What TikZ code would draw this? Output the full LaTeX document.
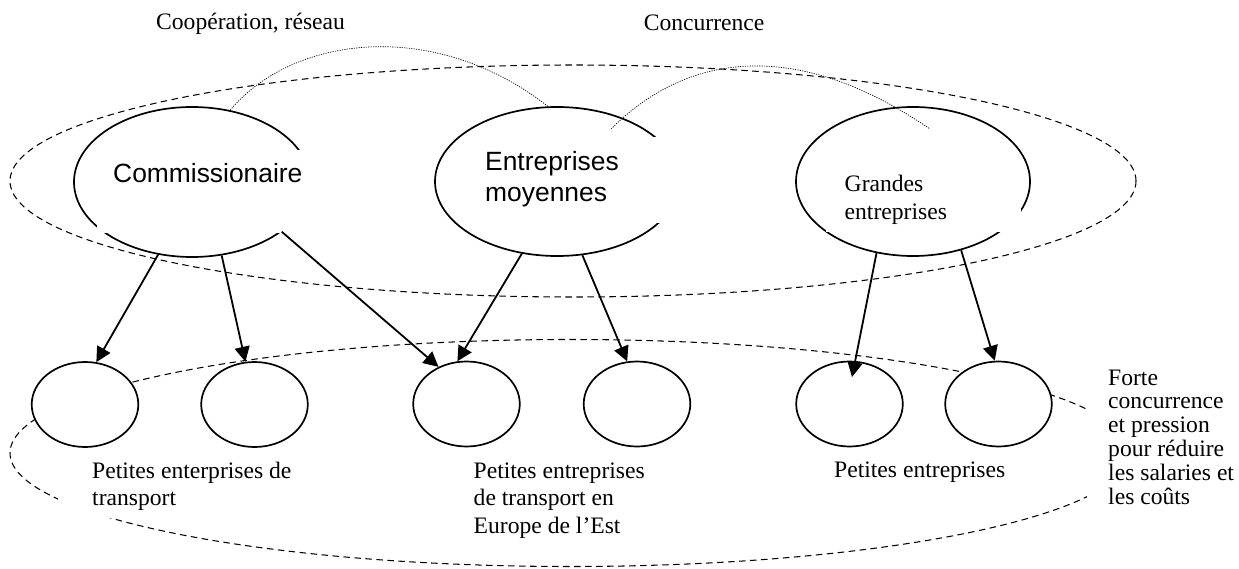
\documentclass[tikz,border=0pt]{standalone}
\usepackage{fontspec}
\setmainfont{Liberation Serif}
\newfontfamily\arialf{Liberation Sans}
\usetikzlibrary{shapes.geometric,arrows.meta}
\newcommand\txtserif{\fontsize{23.6pt}{27.5pt}\selectfont}
\newcommand\txtsans{\arialf\fontsize{26.4pt}{30.5pt}\selectfont}
\begin{document}
\begin{tikzpicture}[x=1pt,y=-1pt,
  bigell/.style={ellipse,draw,fill=white,line width=1.7pt,inner sep=0pt,minimum height=149pt},
  smallell/.style={ellipse,draw,fill=white,line width=1.7pt,inner sep=0pt,minimum width=106.6pt,minimum height=85pt},
  dashline/.style={line width=1.05pt,dash pattern=on 6.5pt off 4.5pt},
  dotline/.style={line width=0.65pt,dash pattern=on 1.2pt off 1.2pt},
  arr/.style={line width=1.8pt,-{Triangle[length=15pt,width=15pt]}},
  mask/.style={fill=white},
  lab/.style={anchor=base west,inner sep=0pt}]
\useasboundingbox[fill=white] (0,0) rectangle (1239,569);

% group outlines
\draw[dashline] (573,181) ellipse [x radius=563pt, y radius=116pt];
\draw[dashline] (570,453) ellipse [x radius=560pt, y radius=113.5pt];

% large firms
\node[bigell,minimum width=236pt,minimum height=150pt] (comm) at (192,182) {};
\node[bigell,minimum width=244pt] (ent) at (557,181.5) {};
\node[bigell,minimum width=234pt] (gra) at (913,181.5) {};

% relation curves
\coordinate (concA) at (611,129);
\coordinate (concB) at (930,129);
\draw[dotline] (comm.62) .. controls (293,35) and (435,18) .. (ent.97.5);
\draw[dotline] (concA) .. controls (690,50) and (800,40) .. (concB);

% small firms
\node[smallell] (c1) at (85,404.5) {};
\node[smallell] (c2) at (254.5,404.5) {};
\node[smallell] (c3) at (466.5,404) {};
\node[smallell] (c4) at (637,404) {};
\node[smallell] (c5) at (849.5,404) {};
\node[smallell] (c6) at (998.5,404) {};

% text boxes (white backgrounds)
\fill[mask] (97,150) rectangle (320,233);
\fill[mask] (470,137) rectangle (690,223);
\fill[mask] (826,165) rectangle (1021,232);
\fill[mask] (58,455) rectangle (320,518);
\fill[mask] (1087,360) rectangle (1239,515);

% labels
\node[lab] (coop) at (156,30) {\txtserif Coopération, réseau};
\node[lab] (conc) at (643.6,30.5) {\txtserif Concurrence};
\node[lab] (commtxt) at (113,183) {\txtsans Commissionaire};
\node[lab] (enttxt) at (485,171) {\parbox[t]{200pt}{\raggedright\txtsans Entreprises\\moyennes}};
\node[lab] (gratxt) at (844.5,192) {\parbox[t]{200pt}{\raggedright\txtserif\baselineskip=28pt Grandes\\entreprises}};
\node[lab] (pet1) at (92,478) {\parbox[t]{250pt}{\raggedright\txtserif Petites enterprises de\\transport}};
\node[lab] (pet2) at (473.5,478) {\parbox[t]{250pt}{\raggedright\txtserif Petites entreprises\\de transport en\\Europe de l’Est}};
\node[lab] (pet3) at (834,477) {\txtserif Petites entreprises};
\node[lab] (forte) at (1108,385) {\parbox[t]{140pt}{\raggedright\txtserif\baselineskip=23.8pt Forte\\concurrence\\et pression\\pour réduire\\les salaries et\\les coûts}};

% arrows
\coordinate (ftip) at (852,377);
\draw[arr] (comm.245) -- (c1.75.5);
\draw[arr] (comm.292.3) -- (c2.102.6);
\draw[arr] (comm.-29) -- (c3.127.7);
\draw[arr] (ent.244.2) -- (c3.102.7);
\draw[arr] (ent.289.2) -- (c4.103.4);
\draw[arr] (gra.243.3) -- (ftip);
\draw[arr] (gra.305.4) -- (c6.95);
\end{tikzpicture}
\end{document}
